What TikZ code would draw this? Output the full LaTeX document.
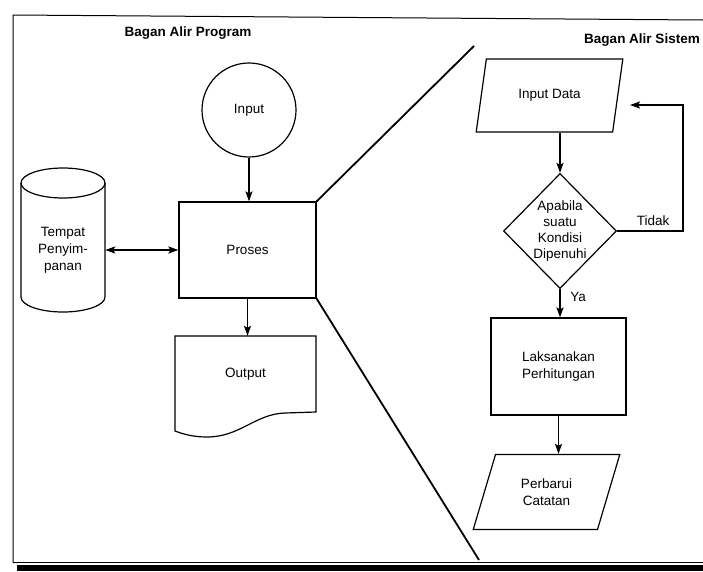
\documentclass[tikz,border=0pt]{standalone}
\usepackage{fontspec}
\setmainfont{Liberation Sans}
\usetikzlibrary{shapes.geometric,arrows.meta}
\begin{document}
\begin{tikzpicture}[x=1pt,y=-1pt,
  every node/.style={font=\fontsize{13.5}{17}\selectfont, inner sep=0pt},
  shp/.style={draw, line width=1.2pt},
  arr/.style={line width=1.5pt, -{Stealth[length=10pt,width=7pt,inset=2pt]}},
  darr/.style={line width=1.5pt, {Stealth[length=10pt,width=7pt,inset=2pt]}-{Stealth[length=10pt,width=7pt,inset=2pt]}},
  title/.style={font=\fontsize{13.5}{17}\selectfont\bfseries},
  para/.style={shp, trapezium, trapezium left angle=67.5, trapezium right angle=112.5, trapezium stretches=true, minimum width=147pt, align=center},
  divider/.style={line width=1.8pt}]
\useasboundingbox (0,0) rectangle (703,571);
\fill[white] (0,0) rectangle (703,571);
% frame
\draw[line width=1pt] (13,563) -- (13,15) -- (703,20);
\draw[line width=0.8pt] (13,562) -- (703,562);
\fill[black] (17,565) rectangle (703,571);
% titles
\node[title] (t1) at (188,33) {Bagan Alir Program};
\node[title] (t2) at (642,40) {Bagan Alir Sistem};
% left: program flowchart
\node[shp, circle, minimum size=94pt] (inp) at (249,110) {Input};
\node[shp, minimum width=137pt, minimum height=96pt] (proc) at (247.5,250) {Proses};
\draw[shp] (21,183) -- (21,297) arc[start angle=180,end angle=360,x radius=42pt,y radius=15pt] -- (105,183);
\draw[shp] (63,183) ellipse[x radius=42pt, y radius=15pt];
\node[minimum width=84pt, minimum height=100pt, align=center] (store) at (63,250) {Tempat\\Penyim-\\panan};
\draw[darr] (store.east) -- (store.east -| proc.west);
\draw[shp] (175,336) -- (316,336) -- (316,412) -- (285,413) .. controls (255,414) and (240,437) .. (207,437) .. controls (193,437) and (183,434) .. (175,431) -- cycle;
\node[minimum width=141pt, minimum height=76pt] (out) at (245.5,374) {Output};
\draw[arr] (inp.south) -- (inp.south |- proc.north);
\draw[arr] (proc.south) -- (proc.south |- out.north);
% dividers
\coordinate (d1) at (474,46);
\coordinate (d2) at (479,560);
\draw[divider] (proc.north east) -- (d1);
\draw[divider] (proc.south east) -- (d2);
% right: system flowchart
\node[para, minimum height=73pt] (indata) at (549.5,95.5) {Input Data};
\node[shp, diamond, minimum width=113pt, minimum height=115pt] (dec) at (560,231) {};
\node[align=center, font=\fontsize{13.5}{16.2}\selectfont] (dect) at (dec) {Apabila\\suatu\\Kondisi\\Dipenuhi};
\draw[arr] (indata.south -| dec.north) -- (dec.north);
\coordinate (fbc) at (683,105);
\coordinate (fbe) at (630,105);
\draw[arr] (dec.east) -- (dec.east -| fbc) -- (fbc) -- (fbe);
\node (tidak) at (653,221) {Tidak};
\node[shp, minimum width=135pt, minimum height=97pt, align=center] (calc) at (558.5,366.5) {Laksanakan\\Perhitungan};
\draw[arr] (dec.south) -- (dec.south |- calc.north);
\node (ya) at (578,297) {Ya};
\node[para, minimum height=75pt] (upd) at (546.5,492) {Perbarui\\Catatan};
\draw[arr] (calc.south) -- (calc.south |- upd.north);
\end{tikzpicture}
\end{document}
